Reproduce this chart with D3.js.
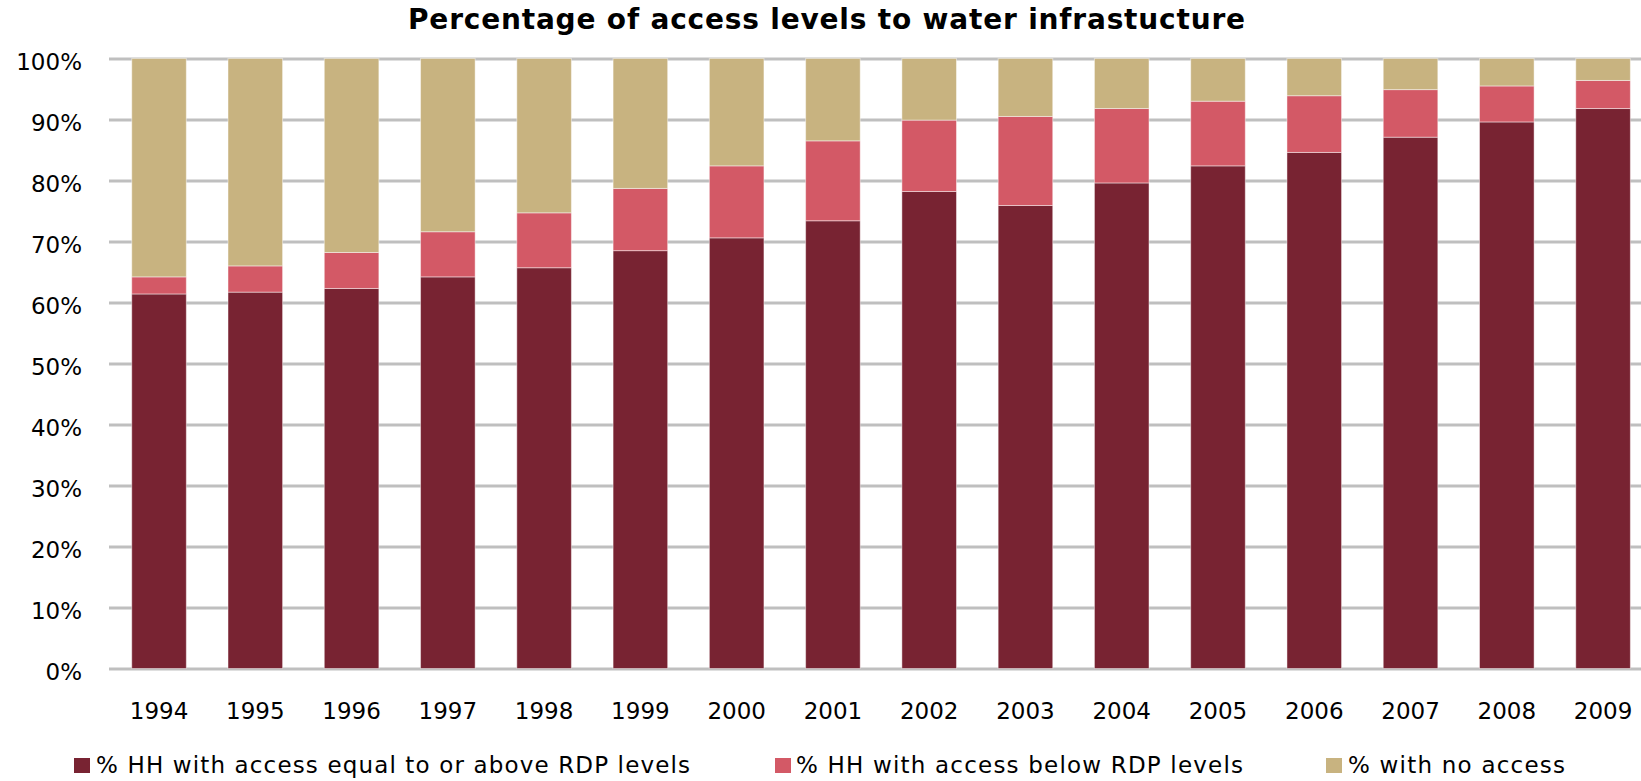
<!DOCTYPE html>
<html>
<head>
<meta charset="utf-8">
<script src="https://cdn.jsdelivr.net/npm/d3@7/dist/d3.min.js"></script>
<style>
  html, body { margin: 0; padding: 0; background: #fff; }
  svg { display: block; }
</style>
</head>
<body>
<svg id="chart" width="1641" height="781"></svg>
<script>
const years = ["1994","1995","1996","1997","1998","1999","2000","2001","2002","2003","2004","2005","2006","2007","2008","2009"];
const aboveRDP = [61.4, 61.7, 62.3, 64.2, 65.7, 68.5, 70.6, 73.4, 78.2, 75.9, 79.6, 82.4, 84.6, 87.1, 89.6, 91.8];
const belowRDP = [2.8, 4.3, 5.9, 7.4, 9.0, 10.2, 11.8, 13.1, 11.7, 14.6, 12.2, 10.6, 9.3, 7.8, 5.9, 4.6];
const noAccess = [35.8, 34.0, 31.8, 28.4, 25.3, 21.3, 17.6, 13.5, 10.1, 9.5, 8.2, 7.0, 6.1, 5.1, 4.5, 3.6];
const seriesNames = ["% HH with access equal to or above RDP levels", "% HH with access below RDP levels", "% with no access"];
const seriesColors = ["#782332", "#D35966", "#C8B380"];
const yTicks = [0, 10, 20, 30, 40, 50, 60, 70, 80, 90, 100];
const title = "Percentage of access levels to water infrastucture";

const svg = d3.select("#chart");
const font = "'DejaVu Sans', Verdana, sans-serif";

const x = d3.scaleBand().domain(years).range([110.9, 1651.2]).paddingInner(0.433).paddingOuter(0.2165);
const y = d3.scaleLinear().domain([0, 100]).range([668.5, 58.5]);

// gridlines + y labels
const yAxis = d3.axisLeft(y).tickValues(yTicks).tickFormat(d => d + "%")
  .tickSize(-(1651 - 109)).tickPadding(27);
const gy = svg.append("g").attr("transform", "translate(109,0)").call(yAxis);
gy.select(".domain").remove();
gy.selectAll(".tick line").attr("stroke", "#BFBFBF").attr("stroke-width", 3);
gy.selectAll(".tick text").attr("font-family", font).attr("font-size", 23).attr("fill", "#000").attr("dy", "0.47em");

// stacked data
const rows = years.map((yr, i) => ({ year: yr, a: aboveRDP[i], b: belowRDP[i], c: noAccess[i] }));
const stack = d3.stack().keys(["a", "b", "c"]);
const layers = stack(rows);

svg.append("g").selectAll("g").data(layers).join("g")
  .attr("fill", (d, i) => seriesColors[i])
  .selectAll("rect").data(d => d).join("rect")
  .attr("x", d => x(d.data.year))
  .attr("width", x.bandwidth())
  .attr("y", d => y(Math.min(100, d[1])))
  .attr("height", d => y(d[0]) - y(Math.min(100, d[1])))
  .attr("stroke", "rgba(255,255,255,0.45)")
  .attr("stroke-width", 1);

// x axis labels
const xAxis = d3.axisBottom(x).tickSize(0).tickPadding(34);
const gx = svg.append("g").attr("transform", "translate(0,668.5)").call(xAxis);
gx.select(".domain").remove();
gx.selectAll(".tick text").attr("font-family", font).attr("font-size", 23).attr("fill", "#000");

// title
svg.append("text")
  .attr("x", 408).attr("y", 29)
  .style("font-family", font).style("font-size", "28px").style("font-weight", "bold")
  .attr("textLength", 837).attr("lengthAdjust", "spacing")
  .text(title);

// legend
const legendSw = [74, 775, 1326];
const legendTx = [96, 796, 1348];
const legendW = [594, 447, 217];
const lg = svg.append("g");
seriesNames.forEach((n, i) => {
  lg.append("rect").attr("x", legendSw[i]).attr("y", 758).attr("width", 16).attr("height", 15).attr("fill", seriesColors[i]);
  lg.append("text").attr("x", legendTx[i]).attr("y", 773)
    .attr("font-family", font).attr("font-size", 23).attr("fill", "#000")
    .attr("textLength", legendW[i]).attr("lengthAdjust", "spacing")
    .text(n);
});
</script>
</body>
</html>
